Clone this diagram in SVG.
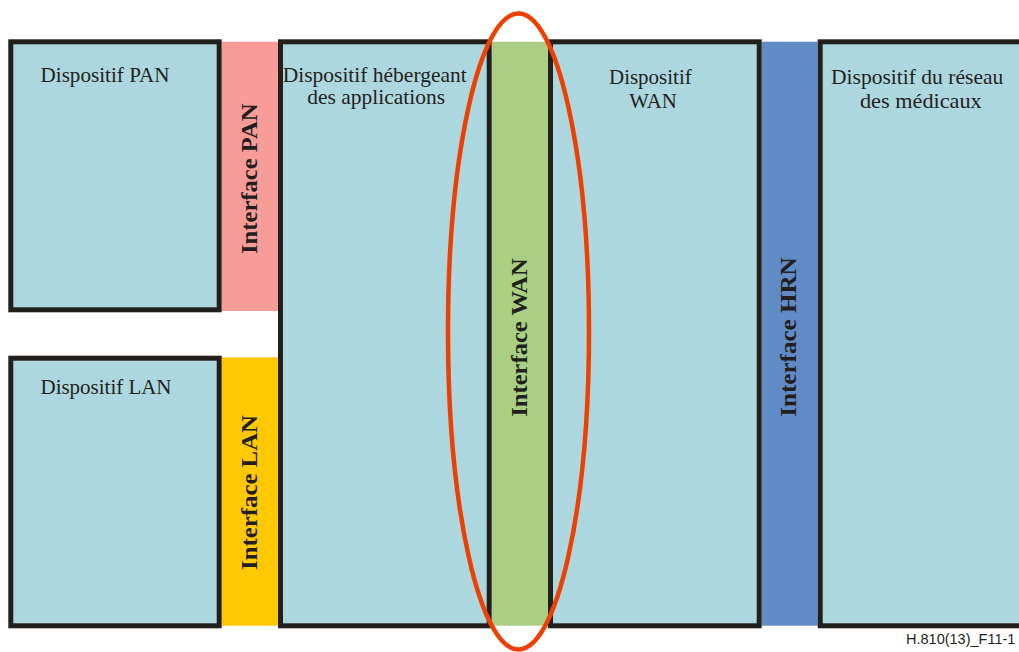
<svg xmlns="http://www.w3.org/2000/svg" width="1019" height="652" viewBox="0 0 1019 652">
  <style>
    .dev { fill: #add7de; stroke: #231f1c; stroke-width: 5; }
    .lbl { font-family: "Liberation Serif", "DejaVu Serif", "Times New Roman", serif; font-weight: normal; font-size: 21px; fill: #231f20; }
    .itf { font-family: "Liberation Serif", "DejaVu Serif", "Times New Roman", serif; font-size: 24px; font-weight: bold; fill: #231f20; text-anchor: middle; }
    .ref { font-family: "Liberation Sans", Arial, sans-serif; font-size: 14.5px; fill: #231f20; }
  </style>

  <!-- interface bands (drawn under the device outlines) -->
  <g id="interface-pan">
    <rect x="222" y="41.7" width="59" height="269.3" fill="#f89c98"/>
    <text class="itf" transform="translate(256.5,178.7) rotate(-90)" textLength="150.7" lengthAdjust="spacingAndGlyphs">Interface PAN</text>
  </g>
  <g id="interface-lan">
    <rect x="222" y="357.3" width="59" height="268.4" fill="#ffc800"/>
    <text class="itf" transform="translate(256.5,492.5) rotate(-90)" textLength="155" lengthAdjust="spacingAndGlyphs">Interface LAN</text>
  </g>
  <g id="interface-wan">
    <rect x="491.7" y="41.7" width="56.6" height="584" fill="#aacf82"/>
    <text class="itf" transform="translate(526.5,337.5) rotate(-90)" textLength="158.4" lengthAdjust="spacingAndGlyphs">Interface WAN</text>
  </g>
  <g id="interface-hrn">
    <rect x="761.7" y="41.7" width="56" height="584" fill="#618bc5"/>
    <text class="itf" transform="translate(795.5,337) rotate(-90)" textLength="159.4" lengthAdjust="spacingAndGlyphs">Interface HRN</text>
  </g>

  <!-- devices -->
  <g id="device-pan">
    <rect class="dev" x="10.8" y="41.8" width="208.4" height="268"/>
    <text class="lbl" x="40.5" y="82" textLength="129" lengthAdjust="spacingAndGlyphs">Dispositif PAN</text>
  </g>
  <g id="device-lan">
    <rect class="dev" x="10.8" y="358.2" width="208.4" height="267.6"/>
    <text class="lbl" x="40.5" y="393.5" textLength="131" lengthAdjust="spacingAndGlyphs">Dispositif LAN</text>
  </g>
  <g id="device-host">
    <rect class="dev" x="280.5" y="41.8" width="208.7" height="584"/>
    <text class="lbl" x="282.7" y="82" textLength="184" lengthAdjust="spacingAndGlyphs">Dispositif hébergeant</text>
    <text class="lbl" x="307.3" y="104" textLength="137.7" lengthAdjust="spacingAndGlyphs">des applications</text>
  </g>
  <g id="device-wan">
    <rect class="dev" x="550.5" y="41.8" width="208.7" height="584"/>
    <text class="lbl" x="609" y="84" textLength="82.7" lengthAdjust="spacingAndGlyphs">Dispositif</text>
    <text class="lbl" x="629.3" y="107.5" textLength="47.4" lengthAdjust="spacingAndGlyphs">WAN</text>
  </g>
  <g id="device-hrn">
    <rect class="dev" x="820.2" y="41.8" width="215" height="584"/>
    <text class="lbl" x="831" y="84" textLength="172.3" lengthAdjust="spacingAndGlyphs">Dispositif du réseau</text>
    <text class="lbl" x="860" y="107.5" textLength="121.7" lengthAdjust="spacingAndGlyphs">des médicaux</text>
  </g>

  <!-- connectors: none; highlight ring around the WAN interface -->
  <g id="connectors">
    <ellipse cx="518.5" cy="331.5" rx="70.5" ry="318" fill="none" stroke="#ee4000" stroke-width="4.5"/>
  </g>

  <text class="ref" x="906" y="643.5">H.810(13)_F11-1</text>
</svg>
